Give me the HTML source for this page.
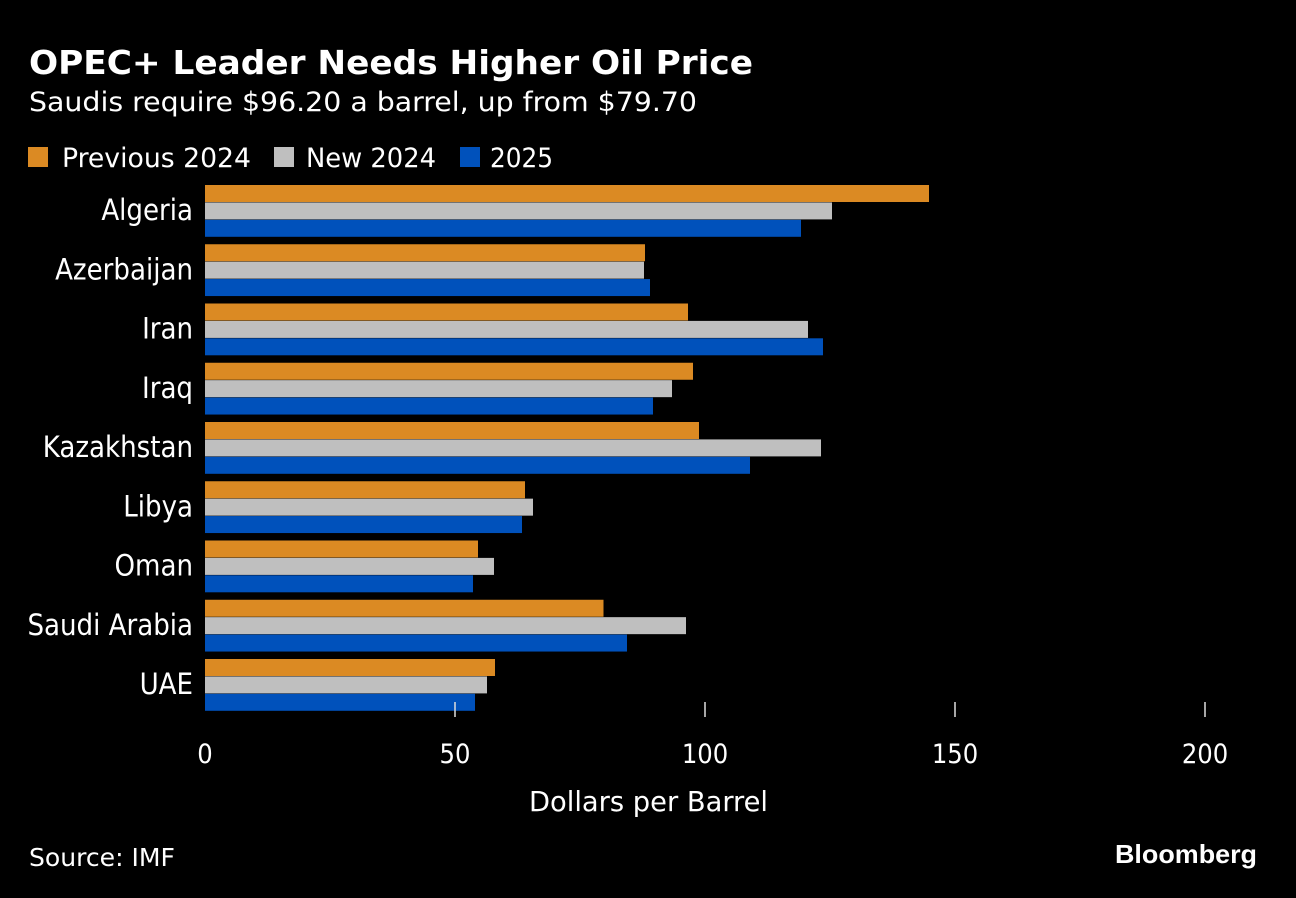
<!DOCTYPE html>
<html><head><meta charset="utf-8"><style>
html,body{margin:0;padding:0;background:#000;width:1296px;height:898px;overflow:hidden}
svg text{font-family:"DejaVu Sans Condensed","DejaVu Sans","Liberation Sans",sans-serif;fill:#fff}
</style></head><body>
<svg id="chart" width="1296" height="898">
<text x="29" y="74" font-size="33" font-weight="bold" textLength="724" lengthAdjust="spacingAndGlyphs">OPEC+ Leader Needs Higher Oil Price</text>
<text x="29" y="111" font-size="27" textLength="668" lengthAdjust="spacingAndGlyphs">Saudis require $96.20 a barrel, up from $79.70</text>
<g>
<rect x="28" y="147" width="20" height="20" fill="#db8a23"/>
<text x="62" y="167" font-size="27" fill="#ddd" textLength="189" lengthAdjust="spacingAndGlyphs">Previous 2024</text>
<rect x="274" y="147" width="20" height="20" fill="#bfbfbf"/>
<text x="306" y="167" font-size="27" textLength="130" lengthAdjust="spacingAndGlyphs">New 2024</text>
<rect x="460" y="147" width="20" height="20" fill="#0051bb"/>
<text x="490" y="167" font-size="27" textLength="63" lengthAdjust="spacingAndGlyphs">2025</text>
</g>
<g id="bars"></g>
<g id="axis"></g>
<text x="529" y="811" font-size="28" fill="#ddd" textLength="239" lengthAdjust="spacingAndGlyphs">Dollars per Barrel</text>
<text x="29" y="866" font-size="25" fill="#ddd" textLength="146" lengthAdjust="spacingAndGlyphs">Source: IMF</text>
<text x="1115" y="863" font-size="26" font-weight="bold" style="font-family:'Liberation Sans',sans-serif" textLength="142" lengthAdjust="spacingAndGlyphs">Bloomberg</text>
</svg>
<script>
const categories=["Algeria","Azerbaijan","Iran","Iraq","Kazakhstan","Libya","Oman","Saudi Arabia","UAE"];
const previous2024=[144.8,88,96.6,97.6,98.8,64,54.6,79.7,58];
const new2024=[125.4,87.8,120.6,93.4,123.2,65.6,57.8,96.2,56.4];
const y2025=[119.2,89,123.6,89.6,109,63.4,53.6,84.4,54];
const ticks=[0,50,100,150,200];
const NS="http://www.w3.org/2000/svg";
function x(v){return 205+v*5;}
function yGroup(i){return 185+i*59.25;}
const series=[[previous2024,"#db8a23","previous-2024"],[new2024,"#bfbfbf","new-2024"],[y2025,"#0051bb","2025"]];
const bars=document.getElementById('bars');
categories.forEach((c,i)=>{
  const g0=yGroup(i);
  series.forEach((s,k)=>{
    const r=document.createElementNS(NS,'rect');
    r.setAttribute('x',x(0));r.setAttribute('y',g0+k*17.4);
    r.setAttribute('width',x(s[0][i])-x(0));r.setAttribute('height',17);
    r.setAttribute('fill',s[1]);
    
    
    bars.appendChild(r);
  });
  const t=document.createElementNS(NS,'text');
  t.setAttribute('x',193);t.setAttribute('y',g0+35);
  t.setAttribute('text-anchor','end');t.setAttribute('font-size','29');t.setAttribute('fill','#ddd');
  t.textContent=c;
  
  
  bars.appendChild(t);
});
const axis=document.getElementById('axis');
ticks.forEach(v=>{
  if(v>0){
    const l=document.createElementNS(NS,'line');
    l.setAttribute('x1',x(v));l.setAttribute('x2',x(v));l.setAttribute('y1',702);l.setAttribute('y2',717);
    l.setAttribute('stroke','#ddd');l.setAttribute('stroke-width','1.5');
    
    
    axis.appendChild(l);
  }
  const t=document.createElementNS(NS,'text');
  t.setAttribute('x',x(v));t.setAttribute('y',763);t.setAttribute('text-anchor','middle');
  t.setAttribute('font-size','27');t.setAttribute('fill','#ddd');
  t.textContent=v;
  
  
  axis.appendChild(t);
});
</script>
</body></html>
